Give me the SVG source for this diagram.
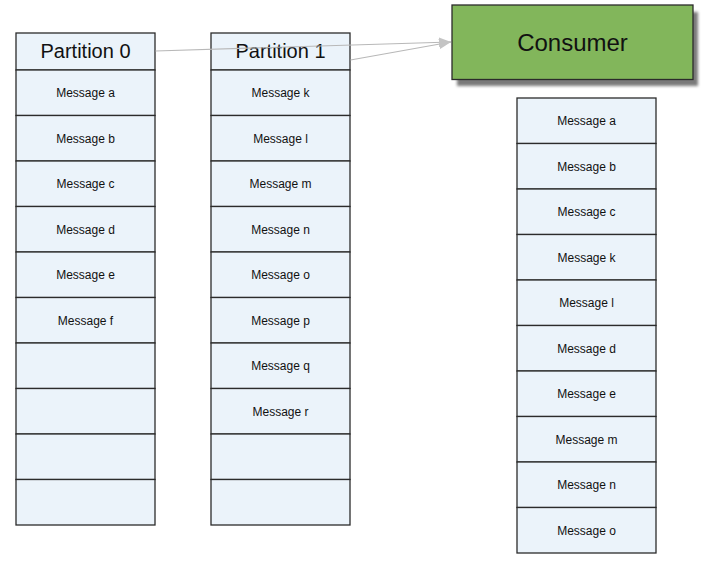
<svg xmlns="http://www.w3.org/2000/svg" width="708" height="565" viewBox="0 0 708 565">
<style>
.cell{fill:#ebf3fa;stroke:#2b2b2b;stroke-width:1.3}
.hdr{font-family:"Liberation Sans",Arial,sans-serif;font-size:20px;fill:#111;text-anchor:middle}
.msg{font-family:"Liberation Sans",Arial,sans-serif;font-size:12px;fill:#111;text-anchor:middle}
.conn{stroke:#b8b8b8;stroke-width:1.2;fill:none}
</style>
<defs>
<marker id="arr" viewBox="0 0 12 10" refX="12" refY="5" markerWidth="12" markerHeight="10" markerUnits="userSpaceOnUse" orient="auto">
<path d="M0,0 L12,5 L0,10 Z" fill="#c4c4c4"/>
</marker>
<filter id="blur" x="-10%" y="-10%" width="120%" height="130%"><feGaussianBlur stdDeviation="1.5"/></filter>
</defs>
<rect width="708" height="565" fill="#fff"/>

<g id="partition0">
<rect class="cell" x="16" y="33" width="139" height="37"/>
<text class="hdr" x="85.5" y="58">Partition 0</text>
<rect class="cell" x="16" y="70" width="139" height="45.5"/>
<rect class="cell" x="16" y="115.5" width="139" height="45.5"/>
<rect class="cell" x="16" y="161" width="139" height="45.5"/>
<rect class="cell" x="16" y="206.5" width="139" height="45.5"/>
<rect class="cell" x="16" y="252" width="139" height="45.5"/>
<rect class="cell" x="16" y="297.5" width="139" height="45.5"/>
<rect class="cell" x="16" y="343" width="139" height="45.5"/>
<rect class="cell" x="16" y="388.5" width="139" height="45.5"/>
<rect class="cell" x="16" y="434" width="139" height="45.5"/>
<rect class="cell" x="16" y="479.5" width="139" height="45.5"/>
<text class="msg" x="85.5" y="97">Message a</text>
<text class="msg" x="85.5" y="142.5">Message b</text>
<text class="msg" x="85.5" y="188">Message c</text>
<text class="msg" x="85.5" y="233.5">Message d</text>
<text class="msg" x="85.5" y="279">Message e</text>
<text class="msg" x="85.5" y="324.5">Message f</text>
</g>

<g id="partition1">
<rect class="cell" x="211" y="33" width="139" height="37"/>
<text class="hdr" x="280.5" y="58">Partition 1</text>
<rect class="cell" x="211" y="70" width="139" height="45.5"/>
<rect class="cell" x="211" y="115.5" width="139" height="45.5"/>
<rect class="cell" x="211" y="161" width="139" height="45.5"/>
<rect class="cell" x="211" y="206.5" width="139" height="45.5"/>
<rect class="cell" x="211" y="252" width="139" height="45.5"/>
<rect class="cell" x="211" y="297.5" width="139" height="45.5"/>
<rect class="cell" x="211" y="343" width="139" height="45.5"/>
<rect class="cell" x="211" y="388.5" width="139" height="45.5"/>
<rect class="cell" x="211" y="434" width="139" height="45.5"/>
<rect class="cell" x="211" y="479.5" width="139" height="45.5"/>
<text class="msg" x="280.5" y="97">Message k</text>
<text class="msg" x="280.5" y="142.5">Message l</text>
<text class="msg" x="280.5" y="188">Message m</text>
<text class="msg" x="280.5" y="233.5">Message n</text>
<text class="msg" x="280.5" y="279">Message o</text>
<text class="msg" x="280.5" y="324.5">Message p</text>
<text class="msg" x="280.5" y="370">Message q</text>
<text class="msg" x="280.5" y="415.5">Message r</text>
</g>

<g id="consumer">
<rect x="457" y="12" width="241" height="74" fill="#7a7a7a" filter="url(#blur)"/>
<rect x="452" y="5" width="241" height="74.5" fill="#82b65b" stroke="#2b2b2b" stroke-width="1.3"/>
<text x="572.5" y="51" font-family="'Liberation Sans',Arial,sans-serif" font-size="24" fill="#111" text-anchor="middle">Consumer</text>
</g>

<g id="consumed">
<rect class="cell" x="517" y="98" width="139" height="45.5"/>
<rect class="cell" x="517" y="143.5" width="139" height="45.5"/>
<rect class="cell" x="517" y="189" width="139" height="45.5"/>
<rect class="cell" x="517" y="234.5" width="139" height="45.5"/>
<rect class="cell" x="517" y="280" width="139" height="45.5"/>
<rect class="cell" x="517" y="325.5" width="139" height="45.5"/>
<rect class="cell" x="517" y="371" width="139" height="45.5"/>
<rect class="cell" x="517" y="416.5" width="139" height="45.5"/>
<rect class="cell" x="517" y="462" width="139" height="45.5"/>
<rect class="cell" x="517" y="507.5" width="139" height="45.5"/>
<text class="msg" x="586.5" y="125">Message a</text>
<text class="msg" x="586.5" y="170.5">Message b</text>
<text class="msg" x="586.5" y="216">Message c</text>
<text class="msg" x="586.5" y="261.5">Message k</text>
<text class="msg" x="586.5" y="307">Message l</text>
<text class="msg" x="586.5" y="352.5">Message d</text>
<text class="msg" x="586.5" y="398">Message e</text>
<text class="msg" x="586.5" y="443.5">Message m</text>
<text class="msg" x="586.5" y="489">Message n</text>
<text class="msg" x="586.5" y="534.5">Message o</text>
</g>

<g id="connectors">
<line class="conn" x1="155.5" y1="51" x2="451" y2="42" marker-end="url(#arr)"/>
<line class="conn" x1="350.5" y1="60" x2="451" y2="42" marker-end="url(#arr)"/>
</g>
</svg>
